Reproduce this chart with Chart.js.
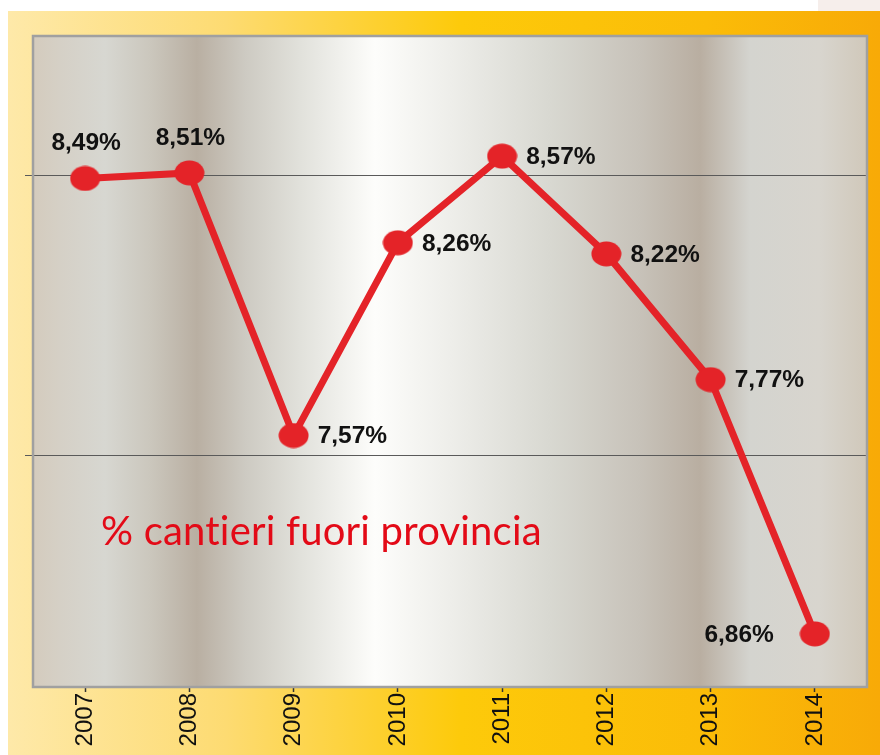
<!DOCTYPE html>
<html>
<head>
<meta charset="utf-8">
<script src="https://cdn.jsdelivr.net/npm/chart.js@4.4.0/dist/chart.umd.min.js"></script>
<style>
  body { margin: 0; background: #fff; }
  #wrap { width: 880px; height: 755px; }
</style>
</head>
<body>
<div id="wrap"><canvas id="chart" width="880" height="755"></canvas></div>
<script>
// dati
const years = ['2007', '2008', '2009', '2010', '2011', '2012', '2013', '2014'];
const values = [8.49, 8.51, 7.57, 8.26, 8.57, 8.22, 7.77, 6.86];
const labelSide = ['top', 'top', 'right', 'right', 'right', 'right', 'right', 'left'];
const gridValues = [7.5, 8.5];
const chartTitle = '% cantieri fuori provincia';

const RED = '#e42328';

function makeDot() {
  const c = document.createElement('canvas');
  c.width = 31;
  c.height = 26;
  const g = c.getContext('2d');
  g.fillStyle = RED;
  g.beginPath();
  g.ellipse(15.5, 13, 15, 12.5, 0, 0, Math.PI * 2);
  g.fill();
  return c;
}

function fmt(v) {
  return v.toFixed(2).replace('.', ',') + '%';
}

// sfondo: cornice gialla + pannello metallico
const backdrop = {
  id: 'backdrop',
  beforeDraw(chart) {
    const ctx = chart.ctx;
    const a = chart.chartArea;
    ctx.save();
    ctx.fillStyle = '#fff';
    ctx.fillRect(0, 0, chart.width, chart.height);
    ctx.fillStyle = '#f6eeeb';
    ctx.fillRect(818, 0, chart.width - 818, 11);

    const outer = ctx.createLinearGradient(8, 0, chart.width, 0);
    outer.addColorStop(0, '#fee9a9');
    outer.addColorStop(0.25, '#fddb72');
    outer.addColorStop(0.52, '#fdca0a');
    outer.addColorStop(0.8, '#fbbc08');
    outer.addColorStop(1, '#f8aa07');
    ctx.fillStyle = outer;
    ctx.fillRect(8, 11, chart.width - 8, chart.height - 11);

    const stops = [
      [33, '#d4cbbd'], [60, '#d5d0c6'], [105, '#d7d7d1'], [150, '#cbc7bd'],
      [197, '#b9afa2'], [245, '#cdcac2'], [300, '#e1e1db'], [375, '#fdfdfb'],
      [450, '#eeeeea'], [550, '#d8d8d1'], [640, '#c7c2b9'], [700, '#b9aea1'],
      [750, '#d4d4cf'], [820, '#d8d5ce'], [867, '#d0c8ba']
    ];
    const inner = ctx.createLinearGradient(a.left, 0, a.right, 0);
    stops.forEach(s => {
      inner.addColorStop(Math.min(1, Math.max(0, (s[0] - a.left) / a.width)), s[1]);
    });
    ctx.fillStyle = inner;
    ctx.fillRect(a.left, a.top, a.width, a.height);
    ctx.restore();
  },
  beforeDatasetsDraw(chart) {
    const ctx = chart.ctx;
    ctx.save();
    ctx.fillStyle = '#e30a17';
    ctx.textBaseline = 'alphabetic';
    ctx.textAlign = 'left';
    ctx.textRendering = 'optimizeSpeed';
    ctx.letterSpacing = '0.2px';
    let size = 40;
    ctx.font = size + 'px Lato';
    size = size * 441 / ctx.measureText(chartTitle).width;
    ctx.font = size + 'px Lato';
    ctx.fillText(chartTitle, 101, 545);
    ctx.restore();
  },
  afterDatasetsDraw(chart) {
    const ctx = chart.ctx;
    const meta = chart.getDatasetMeta(0);
    ctx.save();
    ctx.fillStyle = '#111';
    ctx.font = 'bold 24.5px "Liberation Sans"';
    ctx.textBaseline = 'middle';
    meta.data.forEach((pt, i) => {
      const text = fmt(values[i]);
      if (labelSide[i] === 'top') {
        ctx.textAlign = 'center';
        ctx.fillText(text, pt.x + 1, pt.y - 35);
      } else if (labelSide[i] === 'right') {
        ctx.textAlign = 'left';
        ctx.fillText(text, pt.x + 24, pt.y + 1);
      } else {
        ctx.textAlign = 'right';
        ctx.fillText(text, pt.x - 41, pt.y + 1);
      }
    });
    ctx.restore();
  },
  afterDraw(chart) {
    const ctx = chart.ctx;
    const a = chart.chartArea;
    ctx.save();
    ctx.strokeStyle = '#a0a0a0';
    ctx.lineWidth = 2.5;
    ctx.strokeRect(a.left, a.top, a.width, a.height);
    ctx.restore();
  }
};

const dot = makeDot();

new Chart(document.getElementById('chart'), {
  type: 'line',
  data: {
    labels: years,
    datasets: [{
      data: values,
      borderColor: RED,
      borderWidth: 7,
      tension: 0,
      pointStyle: dot,
      pointBackgroundColor: RED,
      pointBorderColor: RED
    }]
  },
  plugins: [backdrop],
  options: {
    responsive: false,
    animation: false,
    events: [],
    layout: {
      padding: { left: 25, top: 36, right: 13, bottom: 0 }
    },
    plugins: {
      legend: { display: false },
      tooltip: { enabled: false }
    },
    scales: {
      x: {
        offset: true,
        afterFit: s => { s.height = 68; },
        grid: {
          offset: false,
          drawOnChartArea: false,
          tickLength: 5,
          tickColor: '#333',
          tickWidth: 1.5
        },
        border: { display: false },
        ticks: {
          autoSkip: false,
          minRotation: 90,
          maxRotation: 90,
          padding: 1,
          color: '#111',
          font: { family: '"Liberation Sans"', size: 24 }
        }
      },
      y: {
        min: 6.67,
        max: 9.0,
        afterFit: s => { s.width = 8; },
        afterBuildTicks: s => { s.ticks = gridValues.map(v => ({ value: v })); },
        grid: {
          color: '#5a5a5a',
          lineWidth: 1,
          tickLength: 8,
          tickColor: '#5a5a5a'
        },
        border: { display: false },
        ticks: { display: false }
      }
    }
  }
});
</script>
</body>
</html>
